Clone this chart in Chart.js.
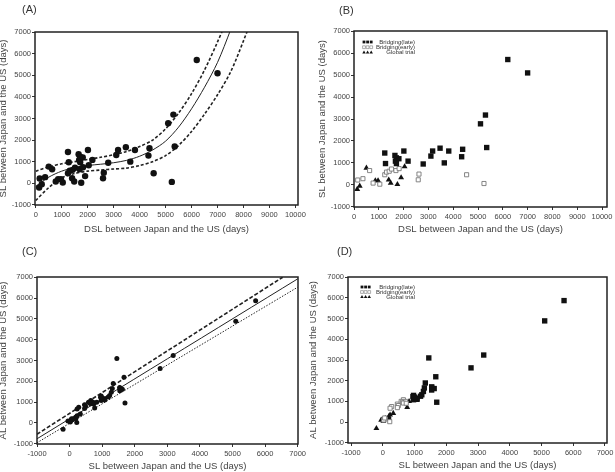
<!DOCTYPE html>
<html lang="en">
<head>
<meta charset="UTF-8">
<title>Development lag Japan vs US</title>
<script src="https://cdn.jsdelivr.net/npm/chart.js"></script>
<style>
    body {
        margin: 0;
        width: 615px;
        height: 472px;
        position: relative;
        overflow: hidden;
        background: #fff;
        font-family: Arial, "Liberation Sans", sans-serif;
    }
    canvas { position: absolute; }
    .tag {
        position: absolute;
        font-size: 11px;
        color: #333;
        line-height: 12px;
    }
</style>
</head>
<body>
<canvas id="chartA" width="308" height="236" style="left:0;top:0"></canvas>
<canvas id="chartB" width="308" height="236" style="left:307px;top:0"></canvas>
<canvas id="chartC" width="308" height="236" style="left:0;top:236px"></canvas>
<canvas id="chartD" width="308" height="236" style="left:307px;top:236px"></canvas>
<div class="tag" style="left:22px;top:3px">(A)</div>
<div class="tag" style="left:339px;top:4px">(B)</div>
<div class="tag" style="left:22px;top:245px">(C)</div>
<div class="tag" style="left:337px;top:245px">(D)</div>

<script>
// Bridging (late): DSL, SL and AL in days
const lateDsl = [1240, 1270, 1650, 1710, 1670, 1810, 1710, 2010, 2180, 2790, 3100, 3170, 3470, 3640, 3820, 4340, 4380, 5100, 5300, 5350, 6200, 7000];
const lateSl  = [1450, 970, 1340, 1230, 1080, 1190, 970, 1540, 1080, 950, 1310, 1540, 1670, 1000, 1540, 1280, 1620, 2780, 3180, 1700, 5710, 5100];
const lateAl  = [3100, 1290, 1890, 1320, 1160, 1250, 1080, 1680, 1100, 1230, 1650, 1700, 2190, 1210, 1550, 1480, 1620, 2620, 3240, 960, 5870, 4890];

// Bridging (early)
const earlyDsl = [150, 360, 630, 770, 1040, 1240, 1310, 1420, 1510, 1690, 1820, 2590, 2620, 4540, 5240];
const earlySl  = [220, 280, 650, 80, 30, 460, 580, 620, 720, 650, 740, 230, 490, 460, 60];
const earlyAl  = [20, 750, 1080, 150, 100, 870, 1000, 960, 1000, 920, 910, 670, 800, 700, 200];

// Global trial
const globalDsl = [130, 230, 500, 860, 970, 1400, 1480, 1750, 1900, 2040];
const globalSl  = [-200, -50, 770, 190, 190, 230, 80, 20, 330, 830];
const globalAl  = [-300, 100, 720, 270, 200, 350, 180, 50, 430, 1000];

// panel A regression curve and its band
const fitDsl     = [0, 500, 1000, 1500, 2000, 2500, 3000, 3500, 4000, 4500, 5000, 5500, 6000, 6500, 7000, 7500, 8000, 8500];
const fitSlMid   = [-150, 280, 560, 720, 820, 880, 950, 1060, 1250, 1540, 1950, 2600, 3450, 4450, 5600, 7100, 8800, 10800];
const fitSlUpper = [560, 760, 900, 1000, 1100, 1200, 1320, 1470, 1700, 2000, 2520, 3250, 4150, 5250, 6550, 8000, 10000, 12000];
const fitSlLower = [-800, -200, 250, 450, 560, 610, 660, 700, 820, 1000, 1280, 1750, 2400, 3200, 4100, 5150, 6600, 8200];

// panel C regression lines
const lineSlX    = [-1000, 7000];
const lineAlMid  = [-760, 6920];
const upperSlX   = [-1000, 6540];
const lineAlUp   = [-540, 7000];
const lineAlLow  = [-950, 6520];

const dslTicks = [0, 1000, 2000, 3000, 4000, 5000, 6000, 7000, 8000, 9000, 10000];
const slTicks  = [-1000, 0, 1000, 2000, 3000, 4000, 5000, 6000, 7000];

const legendNames = ['Bridging(late)', 'Bridging(early)', 'Global trial'];

const FONT = 'Arial, "Liberation Sans", sans-serif';

function pts(xs, ys) {
    return xs.map((x, i) => ({ x: x, y: ys[i] }));
}

// box around the plot area
const framePlugin = {
    id: 'frame',
    afterDatasetsDraw(chart) {
        const { ctx, chartArea: a } = chart;
        ctx.save();
        ctx.strokeStyle = '#222';
        ctx.lineWidth = 1.5;
        ctx.strokeRect(a.left, a.top, a.right - a.left, a.bottom - a.top);
        ctx.restore();
    }
};

function mark(ctx, style, x, y, r, fill, stroke) {
    ctx.beginPath();
    if (style === 'triangle') {
        ctx.moveTo(x, y - r);
        ctx.lineTo(x + r * 0.87, y + r * 0.5);
        ctx.lineTo(x - r * 0.87, y + r * 0.5);
        ctx.closePath();
    } else {
        ctx.rect(x - r * 0.7, y - r * 0.7, r * 1.4, r * 1.4);
    }
    ctx.fillStyle = fill;
    ctx.fill();
    if (stroke !== fill) {
        ctx.strokeStyle = stroke;
        ctx.lineWidth = 0.6;
        ctx.stroke();
    }
}

// small key inside the plot (three markers then the name)
const keyPlugin = {
    id: 'key',
    afterDatasetsDraw(chart, args, opts) {
        if (!opts.show) return;
        const { ctx, chartArea: a } = chart;
        ctx.save();
        ctx.font = '6px ' + FONT;
        ctx.textAlign = 'right';
        ctx.textBaseline = 'middle';
        chart.data.datasets.forEach((ds, i) => {
            const y = a.top + opts.top + i * opts.gap;
            for (let k = 0; k < 3; k++) {
                mark(ctx, ds.pointStyle, a.left + opts.markX + k * 3.6, y, 2, ds.pointBackgroundColor, ds.pointBorderColor);
            }
            ctx.fillStyle = '#333';
            ctx.fillText(ds.label, a.left + opts.textRight, y);
        });
        ctx.restore();
    }
};

function axis(min, max, ticks, title, fixSize, isX, titlePad) {
    return {
        type: 'linear',
        min: min,
        max: max,
        afterBuildTicks: (s) => { s.ticks = ticks.map(v => ({ value: v })); },
        afterFit: (s) => {
            if (isX) { s.height = fixSize; s.paddingLeft = 0; s.paddingRight = 0; }
            else { s.width = fixSize; s.paddingTop = 0; s.paddingBottom = 0; }
        },
        ticks: {
            font: { family: FONT, size: 7.5 },
            color: '#444',
            padding: isX ? 2 : 1,
            autoSkip: false,
            maxRotation: 0,
            callback: (v) => String(v)
        },
        grid: { drawOnChartArea: false, tickLength: 3, color: '#333' },
        border: { display: false },
        title: {
            display: true,
            text: title,
            font: { family: FONT, size: 9.5 },
            color: '#444',
            padding: titlePad
        }
    };
}

function makeChart(id, datasets, xAxis, yAxis, pad, key) {
    return new Chart(document.getElementById(id), {
        type: 'scatter',
        data: { datasets: datasets },
        options: {
            responsive: false,
            animation: false,
            events: [],
            layout: { padding: pad },
            plugins: {
                legend: { display: false },
                tooltip: { enabled: false },
                key: key || { show: false }
            },
            scales: { x: xAxis, y: yAxis }
        },
        plugins: [framePlugin, keyPlugin]
    });
}

function curve(xs, ys, dash, width) {
    return {
        data: pts(xs, ys),
        showLine: true,
        pointRadius: 0,
        borderColor: '#222',
        borderWidth: width,
        borderDash: dash,
        tension: 0.3
    };
}

function dots(data, r) {
    return { data: data, pointStyle: 'circle', pointRadius: r, pointBackgroundColor: '#111', pointBorderColor: '#111', pointBorderWidth: 0 };
}

function groups(xL, yL, xE, yE, xG, yG) {
    return [
        { label: legendNames[0], data: pts(xL, yL), pointStyle: 'rect', pointRadius: 3.8, pointBackgroundColor: '#111', pointBorderColor: '#111', pointBorderWidth: 0 },
        { label: legendNames[1], data: pts(xE, yE), pointStyle: 'rect', pointRadius: 2.9, pointBackgroundColor: '#fff', pointBorderColor: '#777', pointBorderWidth: 0.9 },
        { label: legendNames[2], data: pts(xG, yG), pointStyle: 'triangle', pointRadius: 3.4, pointBackgroundColor: '#111', pointBorderColor: '#111', pointBorderWidth: 0 }
    ];
}

const dslTitle = 'DSL between Japan and the US (days)';
const slTitle = 'SL between Japan and the US (days)';
const alTitle = 'AL between Japan and the US (days)';

// (A)
makeChart('chartA', [
    dots(pts(lateDsl.concat(earlyDsl, globalDsl), lateSl.concat(earlySl, globalSl)), 3.2),
    curve(fitDsl, fitSlMid, [], 1),
    curve(fitDsl, fitSlUpper, [3, 2], 1.6),
    curve(fitDsl, fitSlLower, [3, 2], 1.6)
],
    axis(-30, 10100, dslTicks, dslTitle, 31, true, { bottom: 1 }),
    axis(-1010, 7010, slTicks, slTitle, 35, false, { top: -2 }),
    { left: 0, top: 32, right: 10, bottom: 0 });

// (B)
makeChart('chartB', groups(lateDsl, lateSl, earlyDsl, earlySl, globalDsl, globalSl),
    axis(0, 10200, dslTicks, dslTitle, 29, true, { bottom: 1 }),
    axis(-1010, 7010, slTicks, slTitle, 47, false, { top: 10 }),
    { left: 0, top: 31, right: 8, bottom: 0 },
    { show: true, markX: 10, textRight: 61, top: 11, gap: 5.2 });

// (C)
makeChart('chartC', [
    dots(pts(lateSl.concat(earlySl, globalSl), lateAl.concat(earlyAl, globalAl)), 2.5),
    curve(lineSlX, lineAlMid, [], 1),
    curve(upperSlX, lineAlUp, [4, 2], 1.6),
    curve(lineSlX, lineAlLow, [1.5, 1.5], 1)
],
    axis(-1000, 7010, slTicks, slTitle, 28, true, { bottom: 0 }),
    axis(-1010, 7010, slTicks, alTitle, 37, false, { top: -2 }),
    { left: 0, top: 41, right: 10, bottom: 0 });

// (D)
makeChart('chartD', groups(lateSl, lateAl, earlySl, earlyAl, globalSl, globalAl),
    axis(-1095, 7063, slTicks, slTitle, 29, true, { bottom: 1 }),
    axis(-1010, 7010, slTicks, alTitle, 41, false, { top: 1 }),
    { left: 0, top: 41, right: 8, bottom: 0 },
    { show: true, markX: 14, textRight: 67, top: 10, gap: 5 });
</script>
</body>
</html>
